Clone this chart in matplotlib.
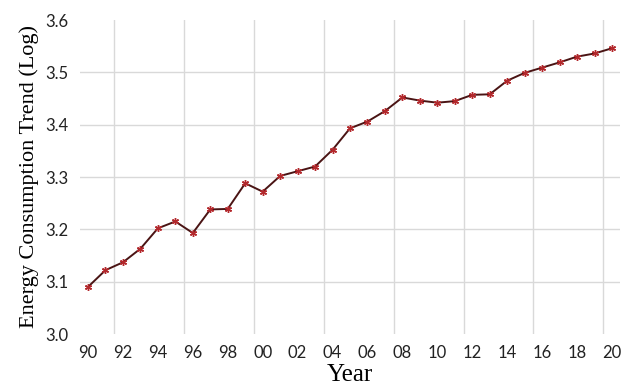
import numpy as np
import matplotlib
matplotlib.use("Agg")
import matplotlib.pyplot as plt

years = list(range(1990, 2021))
trend = [3.090, 3.122, 3.137, 3.163, 3.202, 3.215, 3.193, 3.238, 3.239, 3.288,
         3.272, 3.302, 3.311, 3.320, 3.352, 3.393, 3.406, 3.426, 3.452, 3.446,
         3.442, 3.445, 3.457, 3.458, 3.484, 3.499, 3.509, 3.519, 3.530, 3.536,
         3.546]
tick_years = list(range(1990, 2021, 2))
tick_labels = ["%02d" % (y % 100) for y in tick_years]
y_ticks = [3.0, 3.1, 3.2, 3.3, 3.4, 3.5, 3.6]


def main():
    fig = plt.figure(figsize=(6.29, 3.86), dpi=100)
    ax = fig.add_axes([80 / 629, 52 / 386, 540 / 629, 314 / 386])

    ax.plot(years, trend, color="#4a1414", lw=1.4, zorder=3)
    # asterisk markers
    ax.plot(years, trend, ls="none", marker=(6, 2, 0), ms=5, mew=1.0,
            color="#b3282c", zorder=4)

    ax.set_xlim(1990 - 0.46, 2020 + 0.46)
    ax.set_ylim(3.0, 3.6)

    # gridlines sit between categories, like Excel does
    for gx in np.arange(1991.5, 2020, 4):
        ax.axvline(gx, color="#d9d9d9", lw=1, zorder=1)
    for gy in y_ticks[1:-1]:
        ax.axhline(gy, color="#d9d9d9", lw=1, zorder=1)

    ax.set_xticks(tick_years)
    ax.set_xticklabels(tick_labels)
    ax.set_yticks(y_ticks)
    ax.set_yticklabels(["%.1f" % v for v in y_ticks])
    ax.tick_params(length=0, labelsize=12, colors="#222222", pad=8)
    for lab in ax.get_xticklabels() + ax.get_yticklabels():
        lab.set_family("Lato")
    for s in ax.spines.values():
        s.set_visible(False)

    ax.set_xlabel("Year", family="Liberation Serif", fontsize=18,
                  labelpad=2)
    ax.set_ylabel("Energy Consumption Trend (Log)", family="Liberation Serif",
                  fontsize=16, labelpad=5)

    fig.savefig("out.png", dpi=100)


if __name__ == "__main__":
    main()
